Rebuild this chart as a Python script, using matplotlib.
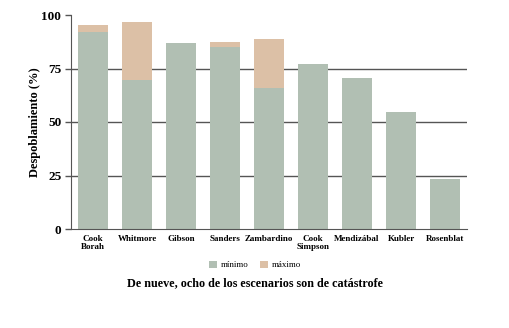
import matplotlib
matplotlib.use("Agg")
import matplotlib.pyplot as plt
import numpy as np

categorias = ["Cook\nBorah", "Whitmore", "Gibson", "Sanders", "Zambardino",
              "Cook\nSimpson", "Mendizábal", "Kubler", "Rosenblat"]
minimo = [92, 69.5, 87, 85, 66, 77, 70.5, 54.5, 23.5]
maximo = [95.5, 96.5, 87, 87.5, 89, 77, 70.5, 54.5, 23.5]
yticks = [0, 25, 50, 75, 100]

verde = "#b1bfb3"
durazno = "#dcc0a6"
gris = "#555555"

plt.rcParams["font.family"] = ["Liberation Serif", "DejaVu Serif"]

fig = plt.figure(figsize=(5.10, 3.28), dpi=100)
ax = fig.add_axes([71 / 510, 1 - 229 / 328, 396 / 510, 214 / 328])

x = np.arange(len(categorias))
extra = [mx - mn for mn, mx in zip(minimo, maximo)]
ax.bar(x, minimo, width=0.7, color=verde, label="mínimo", zorder=2)
ax.bar(x, extra, bottom=minimo, width=0.7, color=durazno, label="máximo", zorder=2)

ax.set_xlim(-0.5, len(categorias) - 0.5)
ax.set_ylim(0, 100)
ax.set_yticks(yticks)
ax.set_yticklabels([str(t) for t in yticks], fontsize=9.5, fontweight="bold")
for t in [25, 50, 75]:
    ax.axhline(t, color=gris, lw=1.0, zorder=1)

ax.set_xticks(x)
ax.set_xticklabels(categorias, fontsize=6.5, fontweight="bold", linespacing=1.15)
ax.tick_params(axis="x", length=0, pad=4)
ax.tick_params(axis="y", length=4, width=1, color=gris, pad=3)

for s in ["top", "right"]:
    ax.spines[s].set_visible(False)
ax.spines["left"].set_color(gris)
ax.spines["bottom"].set_color(gris)

ax.set_ylabel("Despoblamiento (%)", fontsize=9, fontweight="bold", labelpad=0)

fig.legend(loc="center", bbox_to_anchor=(0.5, 1 - 265 / 328), ncol=2, frameon=False,
           fontsize=6.5, handlelength=0.9, handleheight=0.9, handletextpad=0.4,
           columnspacing=1.2)
fig.text(0.5, 1 - 283 / 328, "De nueve, ocho de los escenarios son de catástrofe",
         ha="center", va="center", fontsize=8.7, fontweight="bold")

fig.savefig("out.png", dpi=100, facecolor="white")
